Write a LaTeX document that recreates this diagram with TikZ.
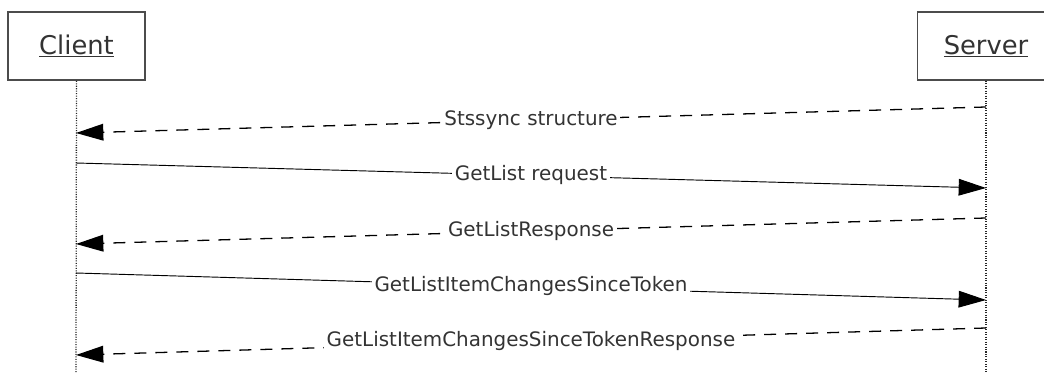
\documentclass[tikz,border=0pt]{standalone}
\usepackage{fontspec}
\setmainfont{DejaVu Sans}
\usetikzlibrary{arrows.meta}
\tikzset{
	actor/.style={draw=black!70,line width=1.4pt,minimum width=4.11cm,minimum height=2.04cm,inner sep=0pt,text=black!80,font=\fontsize{22}{26}\selectfont},
	lifeline/.style={line width=1.1pt,black!85,dash pattern=on 0.9pt off 1.2pt},
	msg/.style={line width=0.8pt,-{Triangle[length=0.82cm,width=0.5cm]}},
	reply/.style={msg,line width=1.1pt,dash pattern=on 0.36cm off 0.27cm},
	lbl/.style={fill=white,inner sep=2pt,text=black!80,font=\fontsize{17}{20}\selectfont}
}
\begin{document}
\begin{tikzpicture}[x=0.03cm,y=-0.03cm]
			\clip (0,0) rectangle (1044,373);
			\node[actor] (client) at (76.5,46) {\underline{Client}};
			\node[actor] (server) at (986,46) {\underline{Server}};
			\coordinate (cend) at (76,373);
			\coordinate (send) at (986,373);
			\draw[lifeline] (client.south) -- (cend);
			\draw[lifeline] (server.south) -- (send);
			% message end points
			\coordinate (s1) at (986,107); \coordinate (c1) at (76,133);
			\coordinate (c2) at (76,163); \coordinate (s2) at (986,188);
			\coordinate (s3) at (986,218); \coordinate (c3) at (76,244);
			\coordinate (c4) at (76,273); \coordinate (s4) at (986,300);
			\coordinate (s5) at (986,328); \coordinate (c5) at (76,355);
			\draw[reply] (s1) -- node[lbl,midway]{Stssync structure} (c1);
			\draw[msg] (c2) -- node[lbl,midway]{GetList request} (s2);
			\draw[reply] (s3) -- node[lbl,midway]{GetListResponse} (c3);
			\draw[msg] (c4) -- node[lbl,midway]{GetListItemChangesSinceToken} (s4);
			\draw[reply] (s5) -- node[lbl,midway]{GetListItemChangesSinceTokenResponse} (c5);
		\end{tikzpicture}
\end{document}
